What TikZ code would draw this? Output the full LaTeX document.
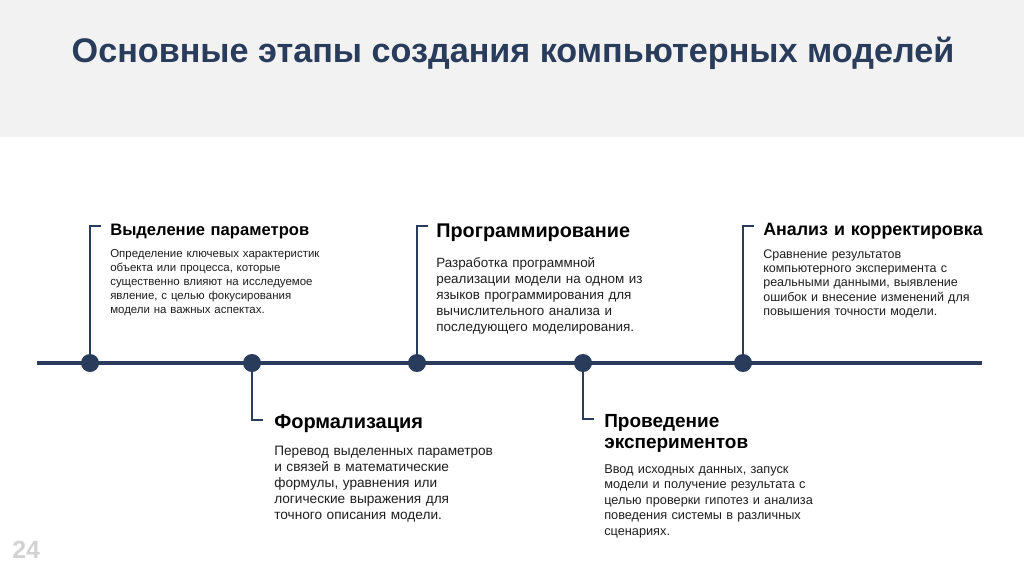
\documentclass[tikz,border=0pt]{standalone}
\usepackage{fontspec}
\setmainfont{Liberation Sans}
\usepackage{tikz}
\usetikzlibrary{positioning,backgrounds}
\definecolor{tlNavy}{RGB}{41,60,92}
\definecolor{tlHead}{RGB}{242,242,242}
\definecolor{tlText}{RGB}{30,30,30}
\definecolor{tlPage}{RGB}{210,210,210}

\begin{document}
\begin{tikzpicture}[
  x=0.025cm, y=-0.025cm,
  dot/.style={circle, fill=tlNavy, inner sep=0pt, minimum size=0.45cm},
  axis/.style={draw=tlNavy, line width=2.3pt},
  tick/.style={draw=tlNavy, line width=1.4pt},
  stitle/.style={anchor=base west, inner sep=0pt, text width=60mm, align=left, text=black},
  sbody/.style={anchor=base west, inner sep=0pt, text width=70mm, align=left, text=tlText},
  pgnum/.style={anchor=base west, inner sep=0pt, text=tlPage}
]
\useasboundingbox (0,0) rectangle (1024,574);

% header
\node[anchor=base, inner sep=0pt, text=tlNavy, font=\bfseries\fontsize{24.3}{28}\selectfont] (ttl) at (513,62)
  {Основные этапы создания компьютерных моделей};
\node[pgnum, font=\bfseries\fontsize{17.7}{18}\selectfont] (pg) at (12,558) {24};

% timeline ends
\coordinate (ax0) at (37,363);
\coordinate (ax1) at (982,363);

%============ STAGE 1 ============
\node[dot] (d1) at (90,363) {};
\coordinate (k1) at (90,226);
\node[stitle, font=\bfseries\fontsize{11.8}{13}\selectfont] (h1) at (110,235) {Выделение параметров};
\node[sbody, font=\fontsize{8.15}{10.06}\selectfont] (b1) at (110,257)
  {Определение ключевых характеристик\\объекта или процесса, которые\\существенно влияют на исследуемое\\явление, с целью фокусирования\\модели на важных аспектах.};

%============ STAGE 2 ============
\node[dot] (d2) at (252,363) {};
\coordinate (k2) at (252,420);
\node[stitle, font=\bfseries\fontsize{14.2}{15}\selectfont] (h2) at (274,428) {Формализация};
\node[sbody, font=\fontsize{9.7}{11.5}\selectfont] (b2) at (274,455)
  {Перевод выделенных параметров\\и связей в математические\\формулы, уравнения или\\логические выражения для\\точного описания модели.};

%============ STAGE 3 ============
\node[dot] (d3) at (417,363) {};
\coordinate (k3) at (417,226);
\node[stitle, font=\bfseries\fontsize{14.1}{15}\selectfont] (h3) at (436,237) {Программирование};
\node[sbody, font=\fontsize{9.55}{11.5}\selectfont] (b3) at (436,267)
  {Разработка программной\\реализации модели на одном из\\языков программирования для\\вычислительного анализа и\\последующего моделирования.};

%============ STAGE 4 ============
\node[dot] (d4) at (583,363) {};
\coordinate (k4) at (583,419);
\node[stitle, font=\bfseries\fontsize{13.5}{15.6}\selectfont] (h4) at (604,427) {Проведение\\экспериментов};
\node[sbody, font=\fontsize{9.06}{11.1}\selectfont] (b4) at (604,473)
  {Ввод исходных данных, запуск\\модели и получение результата с\\целью проверки гипотез и анализа\\поведения системы в различных\\сценариях.};

%============ STAGE 5 ============
\node[dot] (d5) at (743,363) {};
\coordinate (k5) at (743,226);
\node[stitle, font=\bfseries\fontsize{12.7}{14}\selectfont] (h5) at (763,235) {Анализ и корректировка};
\node[sbody, font=\fontsize{8.9}{10.3}\selectfont] (b5) at (763,258)
  {Сравнение результатов\\компьютерного эксперимента с\\реальными данными, выявление\\ошибок и внесение изменений для\\повышения точности модели.};

\begin{scope}[on background layer]
  \fill[tlHead] (0,0) rectangle (1024,137);
  \draw[axis] (ax0) -- (ax1);
  % brackets
  \draw[tick] (d1.center) -- (k1) -- ++(11,0);
  \draw[tick] (d2.center) -- (k2) -- ++(11,0);
  \draw[tick] (d3.center) -- (k3) -- ++(11,0);
  \draw[tick] (d4.center) -- (k4) -- ++(11,0);
  \draw[tick] (d5.center) -- (k5) -- ++(11,0);
\end{scope}

\end{tikzpicture}
\end{document}
